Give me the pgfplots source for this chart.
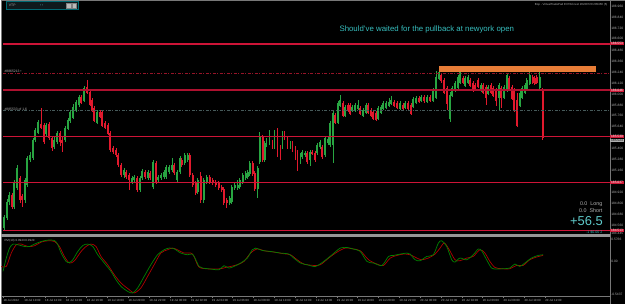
\documentclass[border=0pt]{standalone}
\usepackage{pgfplots}
\pgfplotsset{compat=1.18}
\usepackage{pgfplotstable}
\usepackage{fontspec}
\setmainfont{Liberation Sans}
\newcommand{\fs}[1]{\fontsize{#1}{#1}\selectfont}
\definecolor{cgreen}{RGB}{40,165,65}
\definecolor{cred}{RGB}{225,25,45}
\definecolor{hred}{RGB}{205,20,55}
\definecolor{dred}{RGB}{150,20,40}
\definecolor{dgray}{RGB}{70,90,90}
\definecolor{orng}{RGB}{232,125,55}
\definecolor{cyantext}{RGB}{55,190,190}
\definecolor{lgray}{RGB}{175,175,175}
\definecolor{framegray}{RGB}{120,120,120}
\definecolor{sepgray}{RGB}{150,150,150}
\definecolor{oscgreen}{RGB}{0,130,0}
\definecolor{oscred}{RGB}{175,0,0}
\definecolor{tealb}{RGB}{0,105,115}
\definecolor{vtpbg}{RGB}{15,25,28}
\definecolor{labred}{RGB}{205,25,55}

\pgfplotstableread{
x t b h l
3 218 228 215 230
6 202 218 199 220
8 195 202 192 205
13 183 207 180 209
16 168 188 165 190
24 180 200 178 203
26 158 185 156 187
29 155 160 152 162
32 140 158 138 160
34 130 140 128 142
37 122 132 120 134
45 125 133 123 136
53 140 147 137 149
56 133 142 131 144
64 128 140 126 142
67 120 128 118 130
69 112 120 110 123
72 107 117 104 119
75 102 110 100 112
78 97 104 95 107
83 88 100 86 102
96 112 122 110 124
123 170 175 168 178
131 178 182 176 184
133 177 180 175 182
139 178 190 176 192
141 171 178 169 180
147 172 178 170 180
152 162 187 160 189
157 177 180 175 182
160 175 178 173 180
163 172 177 170 179
165 167 177 165 179
168 167 172 165 174
171 165 170 158 172
176 172 180 170 182
179 158 172 156 174
184 155 163 153 165
187 155 160 153 162
197 180 192 178 194
203 180 200 178 203
206 177 182 175 184
229 198 203 196 205
231 187 202 185 204
234 185 188 183 190
237 185 188 180 190
239 180 187 178 189
242 175 182 173 184
245 173 178 171 180
247 172 177 170 179
249 163 174 161 176
257 168 189 166 198
259 137 162 132 164
264 143 160 141 162
266 140 145 138 147
269 138 143 130 145
274 132 147 130 149
282 133 147 131 149
290 143 147 141 149
300 155 162 153 164
302 152 157 150 159
305 153 155 151 157
310 152 160 150 166
317 145 153 143 155
320 142 147 140 149
325 138 155 136 157
328 139 143 137 145
330 123 145 121 147
333 113 145 111 163
338 103 122 101 124
340 100 105 95 107
345 107 115 105 117
352 107 110 105 112
355 105 110 103 112
358 105 108 100 110
363 110 115 108 117
366 105 112 103 114
378 108 118 106 120
381 107 112 105 114
383 103 108 101 110
386 103 107 101 109
389 102 105 98 107
391 100 103 96 105
400 103 108 101 110
405 103 107 101 109
413 99 106 97 108
416 98 102 96 104
421 97 100 95 102
427 97 101 95 103
433 90 100 88 102
436 77 97 71 99
439 72 78 70 80
450 95 118 92 122
452 88 95 86 97
455 83 90 81 92
458 77 87 75 89
460 72 82 70 84
465 78 85 76 87
468 77 82 75 84
481 85 90 83 92
488 87 93 85 95
499 85 97 83 110
504 87 97 85 99
507 75 90 73 92
520 93 105 91 107
522 88 97 86 99
525 85 92 83 94
527 80 88 78 90
530 75 83 71 85
540 77 87 71 89
}\greentab

\pgfplotstableread{
x t b h l
11 195 207 193 209
19 178 200 176 203
21 196 200 194 207
40 124 127 108 129
43 125 142 123 144
48 124 138 122 140
51 138 148 136 151
59 133 142 131 146
61 140 143 137 152
80 97 102 95 104
86 87 92 80 94
89 92 104 90 106
91 100 110 98 112
93 108 120 106 122
99 112 116 110 118
101 112 125 110 127
104 123 127 121 129
107 125 133 123 135
109 133 150 131 152
112 148 152 146 154
115 150 155 148 157
117 155 165 153 167
120 165 175 163 177
125 172 177 170 179
128 175 180 173 190
136 178 190 176 192
144 172 177 170 179
149 173 178 171 180
155 163 182 161 184
173 165 173 163 175
181 160 165 158 167
189 155 175 153 177
192 175 185 173 187
195 183 193 181 195
200 176 200 172 203
209 177 182 175 184
212 180 183 178 185
215 182 185 180 187
218 183 188 181 190
221 187 190 185 192
223 189 203 187 205
226 200 203 198 208
252 163 174 161 176
254 173 189 171 191
262 137 160 135 162
272 142 147 140 149
277 132 155 128 157
280 147 155 145 160
284 133 138 131 140
287 138 147 136 149
292 143 148 141 152
295 148 153 146 160
297 152 157 150 171
307 153 162 151 164
312 152 153 150 155
315 153 160 151 162
322 147 157 145 159
335 115 122 113 124
343 103 115 101 117
348 105 110 103 112
350 105 113 103 115
360 108 113 106 115
368 105 112 103 114
371 110 115 108 117
373 112 118 110 120
376 113 119 111 121
394 102 105 100 107
397 103 107 101 109
403 105 108 103 110
408 103 108 101 110
411 105 113 103 115
419 98 101 96 103
424 97 100 95 103
430 97 100 95 102
441 75 80 73 83
444 80 92 78 94
447 88 103 86 110
463 78 82 76 84
470 80 85 78 87
473 83 90 81 92
475 85 88 83 90
478 80 86 78 88
483 85 92 83 94
486 87 97 85 105
491 85 92 83 94
493 88 95 86 97
496 90 100 88 106
501 88 97 86 108
509 78 88 76 90
512 87 98 85 100
514 90 110 88 112
517 100 125 93 127
533 77 82 75 84
535 78 83 76 85
537 77 82 75 84
543 90 137 88 140
}\redtab

\newcommand{\tl}[2]{\node[anchor=west, inner sep=0, font=\fs{3}, text=lgray] at (axis cs:#1,300.4) {#2};}
\newcommand{\pl}[2]{\node[anchor=west, inner sep=0, font=\fs{3.3}, text=lgray] at (axis cs:611.6,#1) {#2};}
\newcommand{\rl}[2]{\node[anchor=west, inner sep=0.35bp, fill=labred, minimum width=14bp, font=\fs{3.3}, text=white] at (axis cs:610.3,#1) {#2};}

\begin{document}
\begin{tikzpicture}
\begin{axis}[scale only axis, width=625bp, height=304bp,
  xmin=0, xmax=625, ymin=0, ymax=304, y dir=reverse,
  hide axis, clip=false]
% background
\addplot[fill=black, draw=none] coordinates {(0,0)(625,0)(625,304)(0,304)};
% frame
\addplot[framegray, line width=1bp] coordinates {(0,0.5)(625,0.5)};
\addplot[framegray, line width=1bp] coordinates {(0.5,0)(0.5,304)};
\addplot[framegray, line width=0.8bp] coordinates {(610.5,0)(610.5,304)};
\addplot[framegray, line width=0.8bp] coordinates {(0,296.5)(610,296.5)};
\addplot[fill=sepgray, draw=none] coordinates {(0,234)(610,234)(610,237)(0,237)};
% time ticks
\addplot[draw=none, mark=none, error bars/.cd, y dir=plus, y fixed=1.5, error mark=none, error bar style={line width=0.4bp, draw=framegray}]
 coordinates {(2,296.5)(22.9,296.5)(43.8,296.5)(64.7,296.5)(85.6,296.5)(106.5,296.5)(127.4,296.5)(148.3,296.5)(169.2,296.5)(190.1,296.5)(211,296.5)(231.9,296.5)(252.8,296.5)(273.7,296.5)(294.6,296.5)(315.5,296.5)(336.4,296.5)(357.3,296.5)(378.2,296.5)(399.1,296.5)(420,296.5)(440.9,296.5)(461.8,296.5)(482.7,296.5)(503.6,296.5)(524.5,296.5)(545.4,296.5)};

% candles: wicks
\addplot[draw=none, mark=none, error bars/.cd, y dir=both, y explicit, error mark=none, error bar style={line width=0.6bp, draw=cgreen}]
 table[x=x, y expr={(\thisrow{h}+\thisrow{l})/2}, y error expr={(\thisrow{l}-\thisrow{h})/2}] {\greentab};
\addplot[draw=none, mark=none, error bars/.cd, y dir=both, y explicit, error mark=none, error bar style={line width=0.6bp, draw=cred}]
 table[x=x, y expr={(\thisrow{h}+\thisrow{l})/2}, y error expr={(\thisrow{l}-\thisrow{h})/2}] {\redtab};
% candles: bodies
\addplot[draw=none, mark=none, error bars/.cd, y dir=both, y explicit, error mark=none, error bar style={line width=1.9bp, draw=cgreen}]
 table[x=x, y expr={(\thisrow{t}+\thisrow{b})/2}, y error expr={(\thisrow{b}-\thisrow{t})/2+0.4}] {\greentab};
\addplot[draw=none, mark=none, error bars/.cd, y dir=both, y explicit, error mark=none, error bar style={line width=1.9bp, draw=cred}]
 table[x=x, y expr={(\thisrow{t}+\thisrow{b})/2}, y error expr={(\thisrow{b}-\thisrow{t})/2+0.4}] {\redtab};

% horizontal levels
\addplot[hred, line width=1.3bp] coordinates {(2,43.5)(610,43.5)};
\addplot[dred, line width=0.8bp, dash pattern=on 3bp off 1.5bp on 1bp off 1.5bp] coordinates {(2,73.5)(610,73.5)};
\addplot[hred!85!black, line width=2bp] coordinates {(2,90)(610,90)};
\addplot[dgray, line width=0.8bp, dash pattern=on 3bp off 1.5bp on 1bp off 1.5bp] coordinates {(2,110.5)(610,110.5)};
\addplot[hred, line width=1.2bp] coordinates {(2,136.5)(610,136.5)};
\addplot[hred, line width=1.2bp] coordinates {(2,182.5)(610,182.5)};
\addplot[hred, line width=1.3bp] coordinates {(2,230.5)(610,230.5)};
% zone
\addplot[fill=orng, draw=none] coordinates {(439,66)(596,66)(596,72)(439,72)};

% oscillator
\addplot[oscred, line width=0.7bp, smooth] coordinates {(0,266.7)(5,266.7)(10,253.3)(15,245)(20,244.3)(26.7,246.7)(33.3,246)(40,242.3)(46.7,241)(53.3,241.7)(58.3,246.7)(63.3,256.7)(68.3,263.3)(73.3,261)(80,251.7)(85,246.7)(90,244.3)(95,246.7)(100,256.7)(106.7,265)(113.3,275)(120,283.3)(128.3,290)(133.3,293.3)(140,288.3)(146.7,276.7)(153.3,265)(160,253.3)(166.7,250)(171.7,248.3)(176.7,250)(183.3,253.3)(190,253.3)(193.3,256.7)(196.7,265)(200,268.3)(210,269.3)(220,269)(225,267.7)(230,266.7)(236.7,265)(243.3,261.7)(250,253.3)(256.7,249)(263.3,251)(273.3,252.3)(283.3,254)(290,255)(296.7,260)(303.3,264.3)(313.3,265.7)(320,265)(328.3,258.3)(336.7,252.3)(345,248.3)(351.7,249)(360,251)(368.3,260)(376.7,264.3)(383.3,265.7)(390,258.3)(396.7,255.7)(403.3,254.3)(410,255)(416.7,258.3)(421.7,260)(428.3,258.3)(435,254.3)(440,248.3)(444.3,243.3)(449.3,250)(455,260)(460,261)(466.7,258.3)(473.3,256.7)(480,250)(485,253.3)(490,261.7)(495,267.7)(501.7,269)(510,269)(516.7,265.7)(523.3,265.7)(530,260)(536.7,257.3)(543.3,255.7)};
\addplot[oscgreen, line width=0.7bp, smooth] coordinates {(1.7,271.7)(5,258.3)(8.3,248.3)(11.7,244.3)(16.7,245)(23.3,246.7)(28.3,246.7)(33.3,244.3)(40,241.7)(46.7,240.3)(53.3,240.7)(56.7,245)(60,253.3)(65,261.7)(68.3,262.7)(71.7,260)(76.7,251.7)(81.7,245.7)(86.7,244.3)(91.7,246.7)(96.7,255)(103.3,263.3)(110,271.7)(115,280)(120,286.7)(126.7,291.7)(131.7,293.3)(136.7,288.3)(143.3,276.7)(150,265)(156.7,255)(163.3,250)(168.3,248.3)(173.3,249)(180,253.3)(186.7,255)(191.7,254.3)(195,260)(198.3,266.7)(201.7,268.3)(210,269.3)(218.3,270)(223.3,266)(228.3,268.3)(233.3,266.7)(240,263.3)(246.7,258.3)(251.7,250)(255,248.3)(261.7,250.7)(270,251.7)(280,253.3)(288.3,254.3)(293.3,258.3)(300,263.3)(306.7,265)(315,266.7)(323.3,261.7)(331.7,255)(340,248.3)(346.7,247.7)(353.3,249.3)(360,251.7)(366.7,261.7)(373.3,263.3)(381.7,265.7)(388.3,256.7)(393.3,255.7)(400,254.3)(406.7,253.3)(410,254.3)(415,260)(420,261)(426.7,256.7)(433.3,255)(438.3,243.3)(441.7,241)(446.7,246.7)(451.7,260)(455,262.3)(460,258.3)(466.7,260)(473.3,255)(478.3,249.3)(481.7,251)(486.7,260)(491.7,268.3)(496.7,269.3)(503.3,269)(510,268.3)(515,264.3)(520,266.7)(525,263.3)(531.7,258.3)(538.3,255.7)(543.3,255)};

% VTP widget
\draw[draw=tealb, fill=vtpbg, line width=0.6bp] (axis cs:5,1.3) rectangle (axis cs:77,8.5);
\node[anchor=west, inner sep=0, font=\fs{3.4}, text=lgray] at (axis cs:7.5,4.9) {VTP};
\node[inner sep=0, font=\fs{3.4}, text=tealb!70!white] at (axis cs:40.5,4.9) {\textbullet\ \textbullet};
\draw[fill=gray!55, draw=gray] (axis cs:65,2.6) rectangle (axis cs:69.6,7.4);
\draw[fill=gray!55, draw=gray] (axis cs:71,2.6) rectangle (axis cs:75.6,7.4);
\node[anchor=east, inner sep=0, font=\fs{2.9}, text=lgray] at (axis cs:608,4.2) {Bop - VirtualTradePad EX70d next 20220720 205450 (5)};

% annotation
\node[anchor=west, inner sep=0, font=\fs{7.9}, text=cyantext] at (axis cs:339,29) {Should've waited for the pullback at newyork open};
\node[anchor=west, inner sep=0, font=\fs{3.4}, text=lgray] at (axis cs:3,71.3) {\#8865213 \textbullet};
\node[anchor=west, inner sep=0, font=\fs{3.4}, text=lgray] at (axis cs:3,109.5) {\#885533 of 1.6};
\node[anchor=west, inner sep=0, font=\fs{3}, text=lgray] at (axis cs:3,240.6) {RVI(10) 0.0943 0.0920};

% position panel
\node[anchor=east, inner sep=0, font=\fs{5.4}, text=lgray] at (axis cs:603,204) {0.0\ \ Long};
\node[anchor=east, inner sep=0, font=\fs{5.4}, text=lgray] at (axis cs:603,210.6) {0.0\ \ Short};
\node[anchor=east, inner sep=0, font=\fs{13}, text=cyantext!80!white] at (axis cs:603.5,221.6) {+56.5};
\node[anchor=east, inner sep=0, font=\fs{3.6}, text=cyantext] at (axis cs:603,232.3) {-1 \$0.00 2};

% price scale
\pl{5.7}{186.960}
\pl{16.7}{186.840}
\pl{27.7}{186.720}
\pl{38.2}{186.600}
\pl{49.7}{186.480}
\pl{60.7}{186.360}
\pl{71.7}{186.240}
\pl{82.7}{186.120}
\pl{94.2}{186.000}
\pl{104.7}{185.880}
\pl{115.7}{185.760}
\pl{126.7}{185.640}
\pl{148.7}{185.400}
\pl{159.7}{185.280}
\pl{170.7}{185.160}
\pl{192.7}{184.920}
\pl{203.7}{184.800}
\pl{214.7}{184.680}
\pl{225.2}{184.560}
\pl{233.6}{184.445}
\rl{43.5}{186.553}
\rl{90}{186.046}
\rl{136.5}{185.539}
\node[anchor=west, inner sep=0.35bp, fill=lgray, minimum width=14bp, font=\fs{3.3}, text=black] at (axis cs:610.3,140.7) {185.523};
\rl{182.5}{185.037}
\rl{230.5}{184.513}
\node[anchor=west, inner sep=0, font=\fs{3.3}, text=lgray] at (axis cs:611.6,239.3) {0.5766};
\node[anchor=west, inner sep=0, font=\fs{3.3}, text=lgray] at (axis cs:611.6,262) {0.00};
\node[anchor=west, inner sep=0, font=\fs{3.3}, text=lgray] at (axis cs:611.6,294.6) {-0.5437};

% time scale
\tl{2}{18 Jul 2022}
\tl{22.9}{18 Jul 10:00}
\tl{43.8}{18 Jul 12:00}
\tl{64.7}{18 Jul 14:00}
\tl{85.6}{18 Jul 16:00}
\tl{106.5}{18 Jul 18:00}
\tl{127.4}{18 Jul 20:00}
\tl{148.3}{18 Jul 22:00}
\tl{169.2}{19 Jul 00:00}
\tl{190.1}{19 Jul 02:00}
\tl{211}{19 Jul 04:00}
\tl{231.9}{19 Jul 06:00}
\tl{252.8}{19 Jul 08:00}
\tl{273.7}{19 Jul 10:00}
\tl{294.6}{19 Jul 12:00}
\tl{315.5}{19 Jul 14:00}
\tl{336.4}{19 Jul 16:00}
\tl{357.3}{19 Jul 18:00}
\tl{378.2}{19 Jul 20:00}
\tl{399.1}{19 Jul 22:00}
\tl{420}{20 Jul 00:00}
\tl{440.9}{20 Jul 02:00}
\tl{461.8}{20 Jul 04:00}
\tl{482.7}{20 Jul 06:00}
\tl{503.6}{20 Jul 08:00}
\tl{524.5}{20 Jul 10:00}
\tl{545.4}{20 Jul 12:00}
\end{axis}
\end{tikzpicture}
\end{document}
